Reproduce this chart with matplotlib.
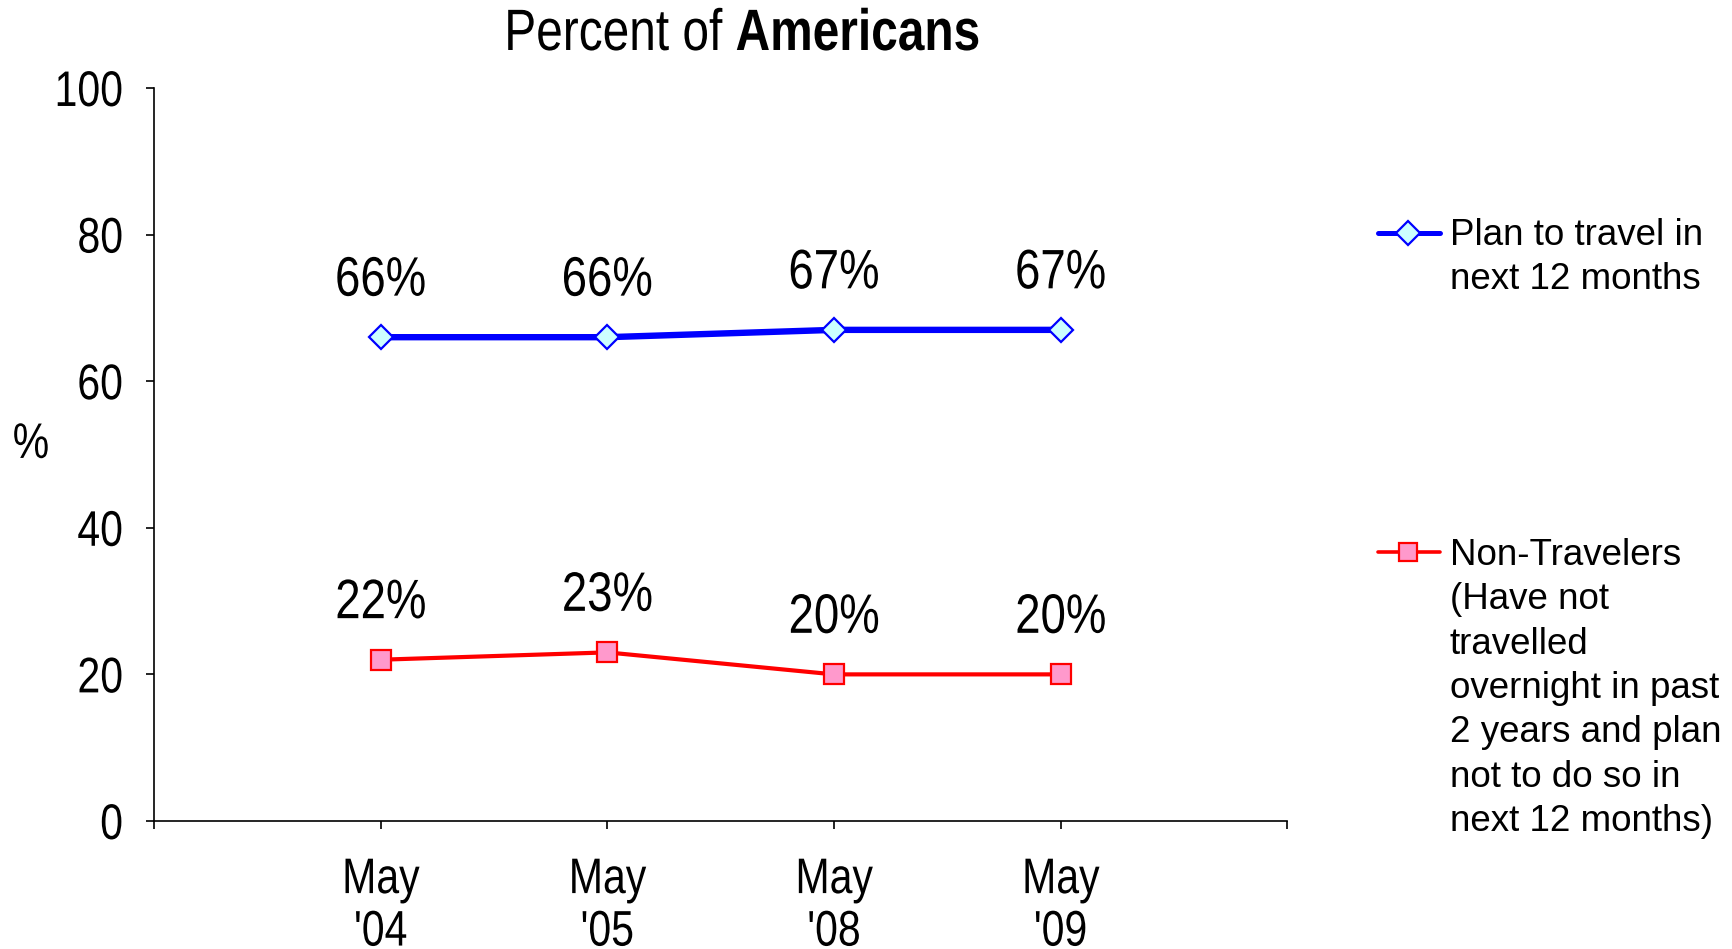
import numpy as np
import matplotlib
matplotlib.use("Agg")
import matplotlib.pyplot as plt
from matplotlib import patheffects
from matplotlib.transforms import Affine2D
from matplotlib.lines import Line2D

# data
periods = ["May\n'04", "May\n'05", "May\n'08", "May\n'09"]
plan_travel = [66, 66, 67, 67]
non_travelers = [22, 23, 20, 20]
plan_label = "Plan to travel in\nnext 12 months"
non_label = ("Non-Travelers\n(Have not\ntravelled\novernight in past\n"
             "2 years and plan\nnot to do so in\nnext 12 months)")

FONT = "Liberation Sans"
SQUEEZE = 0.82  # Arial Narrow is roughly Arial squeezed to 82%

plt.rcParams["mathtext.fontset"] = "custom"
plt.rcParams["mathtext.rm"] = FONT
plt.rcParams["mathtext.bf"] = FONT + ":bold"


class Narrow(patheffects.AbstractPathEffect):
    """Squeeze text glyphs horizontally around the text anchor."""

    def __init__(self, anchor=0.5, sx=SQUEEZE):
        super().__init__()
        self.anchor = anchor
        self.sx = sx

    def draw_path(self, renderer, gc, tpath, affine, rgbFace=None):
        ext = tpath.get_extents()
        cx = ext.x0 + self.anchor * ext.width if self.anchor else 0
        squeeze = Affine2D().translate(-cx, 0).scale(self.sx, 1).translate(cx, 0)
        renderer.draw_path(gc, tpath, squeeze + affine, rgbFace)


fig = plt.figure(figsize=(17.32, 9.49), dpi=100)
ax = fig.add_axes([0.0889, 0.1349, 0.6543, 0.7724])

x = np.arange(1, len(periods) + 1)
ax.plot(x, plan_travel, color="#0000FF", lw=4.6, marker="D", ms=12,
        mfc="#CCFFFF", mec="#0000FF", mew=1.6, zorder=3)
ax.plot(x, non_travelers, color="#FF0000", lw=3, marker="s", ms=15,
        mfc="#FF99CC", mec="#FF0000", mew=1.6, zorder=3)

for series in (plan_travel, non_travelers):
    for xi, v in zip(x, series):
        ax.annotate(f"{v}%", (xi, v), xytext=(0, 40), textcoords="offset points",
                    ha="center", va="center", family=FONT, fontsize=40,
                    path_effects=[Narrow(0.5)])

ax.set_xlim(0, len(periods) + 1)
ax.set_ylim(0, 100)
ax.set_xticks(np.arange(0, len(periods) + 2))
ax.set_xticklabels([""] + periods + [""], family=FONT, fontsize=36,
                   linespacing=1.18, path_effects=[Narrow(0.5)])
ax.set_yticks(np.arange(0, 101, 20))
ax.set_yticklabels([str(v) for v in range(0, 101, 20)], family=FONT,
                   fontsize=36, path_effects=[Narrow(1.0)])
ax.tick_params(axis="y", direction="out", length=6, width=1.2, pad=16)
ax.tick_params(axis="x", direction="out", length=6, width=1.2, pad=20)

for s in ["top", "right"]:
    ax.spines[s].set_visible(False)
for s in ["left", "bottom"]:
    ax.spines[s].set_linewidth(1.2)

ax.set_ylabel("%", rotation=0, va="center", ha="center", family=FONT,
              fontsize=36, path_effects=[Narrow(0.5)])
ax.yaxis.set_label_coords(-0.1086, 0.513)

# title, regular + bold in one text
fig.text(742 / 1732, 0.947, r"Percent of $\mathbf{Americans}$", va="baseline",
         ha="center", family=FONT, fontsize=42, path_effects=[Narrow(0.5)])


# legend drawn by hand
def legend_entry(y_px, top_px, color, lw, marker, ms, mfc, label):
    yf = 1 - y_px / 949
    fig.add_artist(Line2D([1378 / 1732, 1440 / 1732], [yf, yf], color=color,
                          lw=lw, solid_capstyle="round",
                          transform=fig.transFigure))
    fig.add_artist(Line2D([1408 / 1732], [yf], color=color, marker=marker,
                          ms=ms, mfc=mfc, mec=color, mew=1.6, lw=0,
                          transform=fig.transFigure))
    fig.text(1450 / 1732, 1 - top_px / 949, label, family=FONT,
             fontsize=26.5, va="top", ha="left", linespacing=1.345)


legend_entry(233, 218, "#0000FF", 3.6, "D", 12, "#CCFFFF", plan_label)
legend_entry(552, 538, "#FF0000", 2.6, "s", 13, "#FF99CC", non_label)

fig.savefig("out.png", dpi=100)
